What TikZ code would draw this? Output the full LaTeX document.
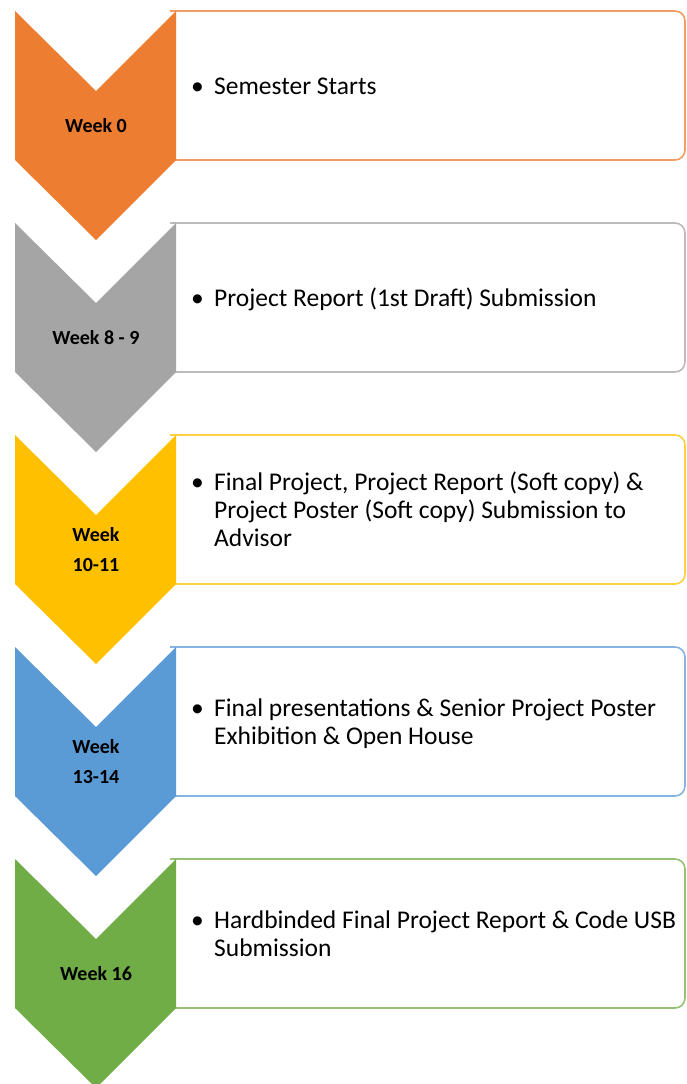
\documentclass[tikz,border=0pt]{standalone}
\usepackage{fontspec}
\setmainfont{Carlito}
\usepackage{array}
\definecolor{cOrange}{HTML}{ED7D31}
\definecolor{cGray}{HTML}{A5A5A5}
\definecolor{cGold}{HTML}{FFC000}
\definecolor{cBlue}{HTML}{5B9BD5}
\definecolor{cGreen}{HTML}{70AD47}
\tikzset{
  weeklabel/.style={font=\bfseries\fontsize{20}{30}\selectfont, align=center, text=black, inner sep=0pt},
  itemtext/.style={font=\fontsize{25.5}{28}\selectfont, anchor=west, inner sep=0pt, text=black},
  stagebox/.style={line width=1.6pt, fill=white},
}
\newcommand{\itemtab}[1]{\begin{tabular}{@{}p{23pt}@{}l@{}}#1\end{tabular}}
\begin{document}
\begin{tikzpicture}[x=1pt,y=-1pt]
\useasboundingbox (0,0) rectangle (686,1084);
\fill[white] (0,0) rectangle (686,1084);
\foreach \i/\col/\lab/\txt in {
  0/cOrange/{Week 0}/{\textbullet & Semester Starts},
  1/cGray/{Week 8 - 9}/{\textbullet & Project Report (1st Draft) Submission},
  2/cGold/{Week\\10-11}/{\textbullet & Final Project, Project Report (Soft copy) \&\\ & Project Poster (Soft copy) Submission to\\ & Advisor},
  3/cBlue/{Week\\13-14}/{\textbullet & Final presentations \& Senior Project Poster\\ & Exhibition \& Open House},
  4/cGreen/{Week 16}/{\textbullet & Hardbinded Final Project Report \& Code USB\\ & Submission}}
{
  \pgfmathsetmacro{\t}{11+212*\i}
  % box
  \draw[stagebox, draw=\col!75!white]
    (170,\t) [rounded corners=10pt] -- (685,\t) -- (685,\t+149) [sharp corners] -- (170,\t+149);
  % chevron
  \fill[\col] (15,\t) -- (96,\t+80) -- (176,\t) -- (176,\t+149) -- (96,\t+229) -- (15,\t+149) -- cycle;
  \node[weeklabel] (w\i) at (96,\t+114.5) {\lab};
  \node[itemtext] (d\i) at (191,\t+77.5) {\itemtab{\txt}};
}
\end{tikzpicture}
\end{document}
